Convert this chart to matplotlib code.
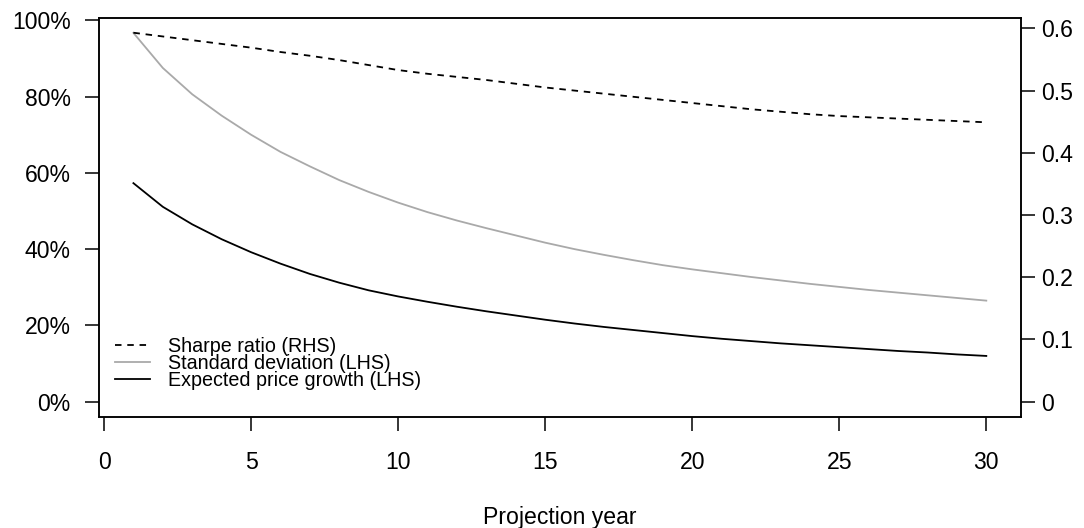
import matplotlib
matplotlib.use("Agg")
import matplotlib.pyplot as plt
from matplotlib.ticker import FuncFormatter

plt.rcParams['font.family'] = ['Liberation Sans', 'DejaVu Sans']

# ---------- projection data ----------
years = list(range(1, 31))

sharpe_ratio = [0.593, 0.587, 0.581, 0.575, 0.569, 0.562, 0.556, 0.549, 0.541, 0.533,
                0.527, 0.522, 0.517, 0.511, 0.505, 0.500, 0.495, 0.490, 0.485, 0.480,
                0.475, 0.470, 0.466, 0.462, 0.459, 0.457, 0.455, 0.453, 0.451, 0.449]

std_dev = [0.967, 0.875, 0.806, 0.750, 0.700, 0.655, 0.617, 0.581, 0.550, 0.522,
           0.497, 0.475, 0.455, 0.436, 0.417, 0.400, 0.385, 0.371, 0.358, 0.347,
           0.337, 0.327, 0.318, 0.309, 0.301, 0.293, 0.286, 0.279, 0.272, 0.265]

price_growth = [0.573, 0.511, 0.465, 0.426, 0.392, 0.362, 0.335, 0.312, 0.292, 0.276,
                0.262, 0.249, 0.237, 0.226, 0.215, 0.205, 0.196, 0.188, 0.180, 0.172,
                0.165, 0.159, 0.153, 0.148, 0.143, 0.138, 0.133, 0.129, 0.124, 0.120]

x_ticks = [0, 5, 10, 15, 20, 25, 30]
lhs_ticks = [0, 0.2, 0.4, 0.6, 0.8, 1.0]
rhs_ticks = [0, 0.1, 0.2, 0.3, 0.4, 0.5, 0.6]
rhs_labels = ['0', '0.1', '0.2', '0.3', '0.4', '0.5', '0.6']

GREY = '#a9a9a9'
LW = 1.3
FS = 16.6

fig = plt.figure(figsize=(10.84, 5.28), dpi=100)
ax = fig.add_axes([0.09133, 0.2108, 0.85028, 0.75455])
ax2 = ax.twinx()

l_sd, = ax.plot(years, std_dev, color=GREY, lw=LW, label='Standard deviation (LHS)')
l_pg, = ax.plot(years, price_growth, color='black', lw=LW, label='Expected price growth (LHS)')
l_sr, = ax2.plot(years, sharpe_ratio, color='black', lw=LW, dashes=(3.6, 3.2),
                 label='Sharpe ratio (RHS)')

ax.set_xlim(-0.17, 31.17)
ax.set_ylim(-0.0393, 1.0052)
ax2.set_ylim(-0.0243, 0.6162)

ax.set_xticks(x_ticks)
ax.set_yticks(lhs_ticks)
ax.yaxis.set_major_formatter(FuncFormatter(lambda v, _: f'{v * 100:.0f}%'))
ax2.set_yticks(rhs_ticks)
ax2.set_yticklabels(rhs_labels)

for a in (ax, ax2):
    for s in a.spines.values():
        s.set_linewidth(1.1)
ax.tick_params(axis='both', direction='out', length=10, width=1.1, labelsize=FS)
ax.tick_params(axis='y', pad=10.5)
ax.tick_params(axis='x', pad=15)
ax2.tick_params(axis='y', direction='out', length=10, width=1.1, labelsize=FS, pad=4.5)

ax.set_xlabel('Projection year', fontsize=FS)
ax.xaxis.set_label_coords(0.5, -0.224)

ax.legend(handles=[l_sr, l_sd, l_pg], loc='lower left', bbox_to_anchor=(0.0174, 0.0680),
          frameon=False, fontsize=14.2, borderpad=0, borderaxespad=0,
          handlelength=1.77, handletextpad=0.91, labelspacing=-0.12)

fig.savefig('out.png', dpi=100)
